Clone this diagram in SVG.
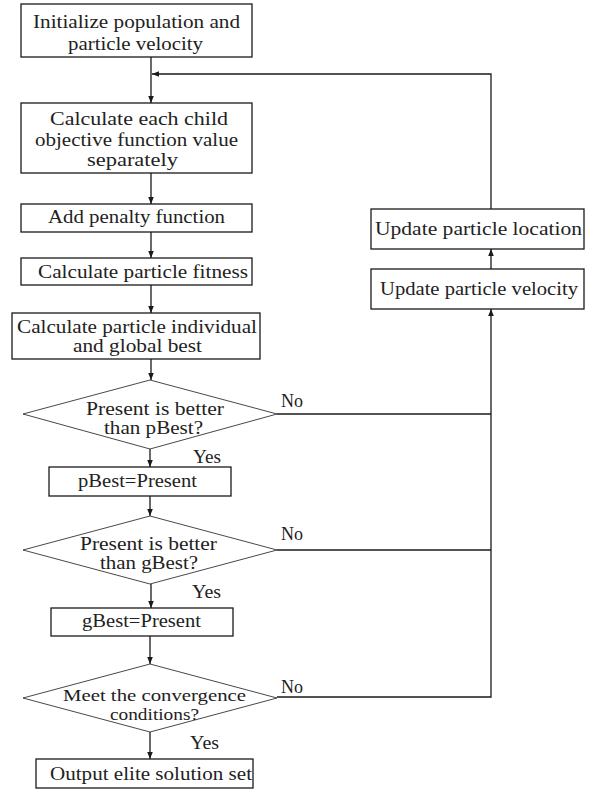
<svg xmlns="http://www.w3.org/2000/svg" width="595" height="790" viewBox="0 0 595 790">
<defs>
<marker id="ah" viewBox="0 0 10 10" refX="10" refY="5" markerWidth="7" markerHeight="7" orient="auto" markerUnits="userSpaceOnUse">
<path d="M0,1 L10,5 L0,9 z" fill="#1a1a1a"/>
</marker>
<style>
rect.n{fill:#fff;stroke:#1a1a1a;stroke-width:1.3}
polygon.d{fill:#fff;stroke:#333;stroke-width:0.9}
text{font-family:"Liberation Serif","Times New Roman",serif;font-size:18px;fill:#222}
text.s{font-size:16.5px}
.c line,.c polyline{stroke:#1a1a1a;stroke-width:1.3;fill:none}
</style>
</defs>
<rect width="595" height="790" fill="#fff"/>
<g class="c" id="connectors">
<line x1="151" y1="57" x2="151" y2="103" marker-end="url(#ah)"/>
<polyline points="491,209 491,74 152,74" marker-end="url(#ah)"/>
<line x1="151" y1="173" x2="151" y2="204" marker-end="url(#ah)"/>
<line x1="151" y1="232" x2="151" y2="258" marker-end="url(#ah)"/>
<line x1="151" y1="285" x2="151" y2="313" marker-end="url(#ah)"/>
<line x1="151" y1="359" x2="151" y2="380" marker-end="url(#ah)"/>
<line x1="150" y1="449" x2="150" y2="467" marker-end="url(#ah)"/>
<line x1="150" y1="496" x2="150" y2="516" marker-end="url(#ah)"/>
<line x1="151" y1="584" x2="151" y2="608" marker-end="url(#ah)"/>
<line x1="150" y1="636" x2="150" y2="664" marker-end="url(#ah)"/>
<line x1="150" y1="732" x2="150" y2="759" marker-end="url(#ah)"/>
<line x1="277" y1="414" x2="491" y2="414"/>
<line x1="277" y1="550" x2="491" y2="550"/>
<polyline points="277,697 491,697 491,309" marker-end="url(#ah)"/>
<line x1="491" y1="269" x2="491" y2="249" marker-end="url(#ah)"/>
</g>
<g id="n1"><rect class="n" x="21" y="4" width="231" height="53"/>
<text x="33" y="28" textLength="207" lengthAdjust="spacingAndGlyphs">Initialize population and</text>
<text x="68" y="50" textLength="135" lengthAdjust="spacingAndGlyphs">particle velocity</text></g>
<g id="n2"><rect class="n" x="21" y="103" width="231" height="70"/>
<text x="50" y="125" textLength="178" lengthAdjust="spacingAndGlyphs">Calculate each child</text>
<text x="35" y="146" textLength="203" lengthAdjust="spacingAndGlyphs">objective function value</text>
<text x="87" y="166" textLength="91" lengthAdjust="spacingAndGlyphs">separately</text></g>
<g id="n3"><rect class="n" x="21" y="204" width="231" height="28"/>
<text x="48" y="223" textLength="177" lengthAdjust="spacingAndGlyphs">Add penalty function</text></g>
<g id="n4"><rect class="n" x="21" y="258" width="231" height="27"/>
<text x="38" y="278" textLength="210" lengthAdjust="spacingAndGlyphs">Calculate particle fitness</text></g>
<g id="n5"><rect class="n" x="12" y="313" width="248" height="46"/>
<text x="17" y="333" textLength="240" lengthAdjust="spacingAndGlyphs">Calculate particle individual</text>
<text x="73" y="352" textLength="129" lengthAdjust="spacingAndGlyphs">and global best</text></g>
<g id="d1"><polygon class="d" points="150,380 277,414 150,449 23,414"/>
<text x="86" y="415" textLength="138" lengthAdjust="spacingAndGlyphs">Present is better</text>
<text x="104" y="434" textLength="99" lengthAdjust="spacingAndGlyphs">than pBest?</text></g>
<g id="n6"><rect class="n" x="49" y="467" width="182" height="29"/>
<text x="78" y="487" textLength="119" lengthAdjust="spacingAndGlyphs">pBest=Present</text></g>
<g id="d2"><polygon class="d" points="150,516 277,550 150,584 23,550"/>
<text x="80" y="550" textLength="137" lengthAdjust="spacingAndGlyphs">Present is better</text>
<text x="100" y="569" textLength="98" lengthAdjust="spacingAndGlyphs">than gBest?</text></g>
<g id="n7"><rect class="n" x="51" y="608" width="182" height="28"/>
<text x="82" y="627" textLength="119" lengthAdjust="spacingAndGlyphs">gBest=Present</text></g>
<g id="d3"><polygon class="d" points="150,664 277,698 150,732 23,698"/>
<text class="s" x="63" y="701" textLength="183" lengthAdjust="spacingAndGlyphs">Meet the convergence</text>
<text class="s" x="110" y="720" textLength="89" lengthAdjust="spacingAndGlyphs">conditions?</text></g>
<g id="n8"><rect class="n" x="36" y="759" width="217" height="29"/>
<text x="50" y="780" textLength="202" lengthAdjust="spacingAndGlyphs">Output elite solution set</text></g>
<g id="n9"><rect class="n" x="371" y="209" width="213" height="40"/>
<text x="375" y="235" textLength="207" lengthAdjust="spacingAndGlyphs">Update particle location</text></g>
<g id="n10"><rect class="n" x="371" y="269" width="213" height="40"/>
<text x="380" y="295" textLength="198" lengthAdjust="spacingAndGlyphs">Update particle velocity</text></g>
<g id="labels">
<text x="193" y="463" textLength="28" lengthAdjust="spacingAndGlyphs">Yes</text>
<text x="192" y="598" textLength="29" lengthAdjust="spacingAndGlyphs">Yes</text>
<text x="190" y="749" textLength="29" lengthAdjust="spacingAndGlyphs">Yes</text>
<text x="281" y="407" textLength="22" lengthAdjust="spacingAndGlyphs">No</text>
<text x="281" y="540" textLength="22" lengthAdjust="spacingAndGlyphs">No</text>
<text x="281" y="693" textLength="22" lengthAdjust="spacingAndGlyphs">No</text>
</g>
</svg>
